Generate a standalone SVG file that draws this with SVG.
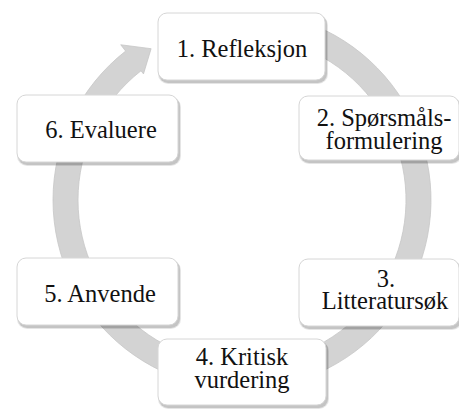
<svg xmlns="http://www.w3.org/2000/svg" width="459" height="412" viewBox="0 0 459 412">
  <style>
    .sh1 { fill: #000000; fill-opacity: 0.10; }
    .sh2 { fill: #000000; fill-opacity: 0.14; }
    .box { fill: #ffffff; stroke: #d6d6d6; stroke-width: 1; }
    .ring { fill: #d3d3d3; stroke: #c6c6c6; stroke-width: 0.8; }
    .lbl { font-family: "Liberation Serif", serif; font-size: 24.5px; fill: #111111; text-anchor: middle; }
  </style>
  <rect width="459" height="412" fill="#ffffff"/>
  <g id="connectors">
    <path class="ring" d="M 274.82 13.87 A 189 189 0 1 1 125.64 51.07 L 120.71 44.76 L 151.1 48.7 L 143.49 73.92 L 141.03 70.77 A 164 164 0 1 0 270.48 38.49 Z"/>
  </g>
  <g id="node1">
    <rect class="sh1" x="158" y="15" width="170" height="69" rx="10"/>
    <rect class="sh2" x="159" y="15" width="168" height="68" rx="9"/>
    <rect class="box" x="158" y="13" width="167" height="67" rx="9"/>
    <text class="lbl" x="242" y="57">1. Refleksjon</text>
  </g>
  <g id="node2">
    <rect class="sh1" x="299" y="98" width="163" height="66" rx="10"/>
    <rect class="sh2" x="300" y="98" width="161" height="65" rx="9"/>
    <rect class="box" x="299" y="96" width="160" height="64" rx="9"/>
    <text class="lbl" x="384" y="126">2. Spørsmåls-</text>
    <text class="lbl" x="384" y="149">formulering</text>
  </g>
  <g id="node3">
    <rect class="sh1" x="299" y="261" width="163" height="69" rx="10"/>
    <rect class="sh2" x="300" y="261" width="161" height="68" rx="9"/>
    <rect class="box" x="299" y="259" width="160" height="67" rx="9"/>
    <text class="lbl" x="386" y="287">3.</text>
    <text class="lbl" x="385" y="309">Litteratursøk</text>
  </g>
  <g id="node4">
    <rect class="sh1" x="158" y="341" width="171" height="68" rx="10"/>
    <rect class="sh2" x="159" y="341" width="169" height="67" rx="9"/>
    <rect class="box" x="158" y="339" width="168" height="66" rx="9"/>
    <text class="lbl" x="242" y="365">4. Kritisk</text>
    <text class="lbl" x="242" y="388">vurdering</text>
  </g>
  <g id="node5">
    <rect class="sh1" x="17" y="260" width="164" height="69" rx="10"/>
    <rect class="sh2" x="18" y="260" width="162" height="68" rx="9"/>
    <rect class="box" x="17" y="258" width="161" height="67" rx="9"/>
    <text class="lbl" x="100" y="302">5. Anvende</text>
  </g>
  <g id="node6">
    <rect class="sh1" x="17" y="97" width="164" height="69" rx="10"/>
    <rect class="sh2" x="18" y="97" width="162" height="68" rx="9"/>
    <rect class="box" x="17" y="95" width="161" height="67" rx="9"/>
    <text class="lbl" x="101" y="138">6. Evaluere</text>
  </g>
</svg>
